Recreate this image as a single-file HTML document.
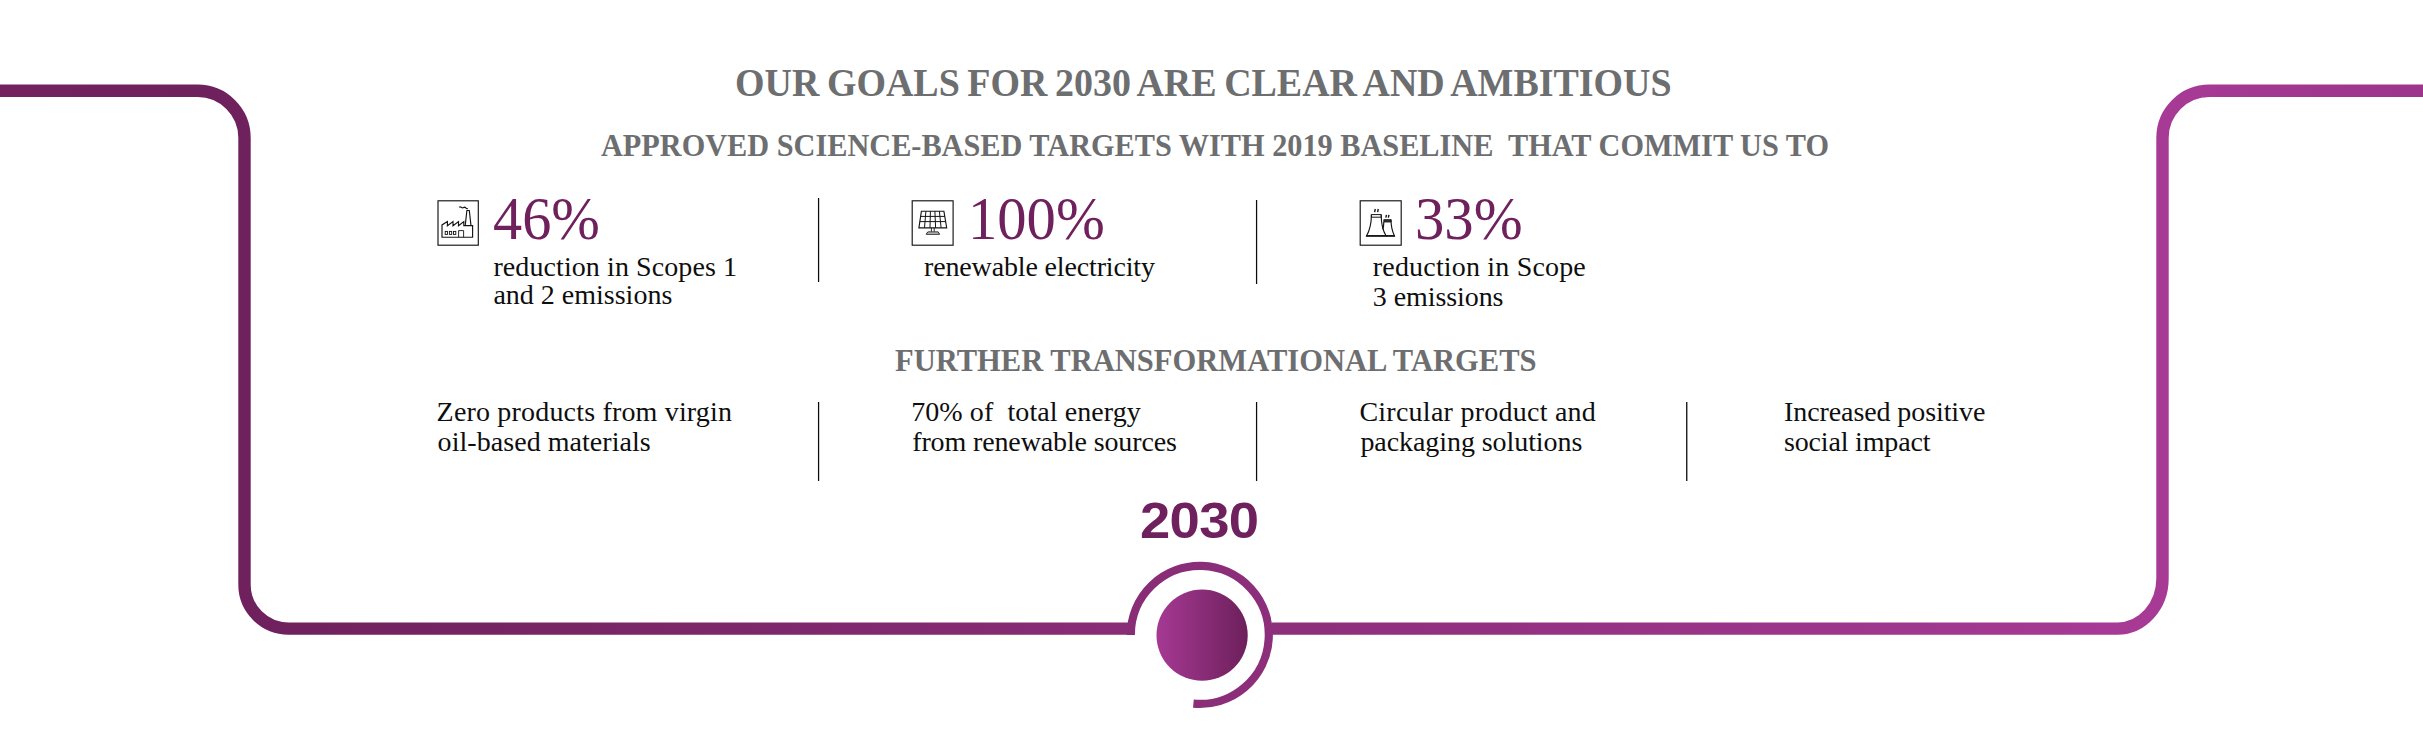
<!DOCTYPE html>
<html lang="en">
<head>
<meta charset="utf-8">
<title>Our goals for 2030</title>
<style>
html,body{margin:0;padding:0;background:#fff;}
body{width:2423px;height:730px;position:relative;overflow:hidden;font-family:"Liberation Serif",serif;}
.t{position:absolute;white-space:nowrap;margin:0;padding:0;transform-origin:0 0;}
.h{color:#6d6e70;font-weight:bold;font-family:"Liberation Serif",serif;}
.n{color:#6f215d;font-family:"Liberation Serif",serif;}
.b{color:#0e0e0e;font-family:"Liberation Serif",serif;}
.y{color:#6f215d;font-weight:bold;font-family:"Liberation Sans",sans-serif;}
.h1{word-spacing:-2px;}
#frame{position:absolute;left:0;top:0;width:2423px;height:730px;}
</style>
</head>
<body>
<svg id="frame" width="2423" height="730" viewBox="0 0 2423 730">
<defs>
<linearGradient id="g" gradientUnits="userSpaceOnUse" x1="0" y1="0" x2="2423" y2="0">
<stop offset="0" stop-color="#73225f"/>
<stop offset="0.1" stop-color="#6e215c"/>
<stop offset="0.89" stop-color="#a73a95"/>
<stop offset="1" stop-color="#9c358b"/>
</linearGradient>
<linearGradient id="g2" gradientUnits="userSpaceOnUse" x1="1156" y1="0" x2="1248" y2="0">
<stop offset="0" stop-color="#a63994"/>
<stop offset="1" stop-color="#6d205b"/>
</linearGradient>
</defs>
<g fill="none" stroke="url(#g)" stroke-width="12.4">
<path d="M0 90.8 H197.5 A47 47 0 0 1 244.5 137.8 V584.6 A44 44 0 0 0 288.5 628.6 H1134.6"/>
<path d="M1272 628.6 H2117.5 A45 50 0 0 0 2162.5 578.6 V137.8 A47 47 0 0 1 2209.5 90.8 H2423"/>
</g>
<path d="M1130.8 634.9 A69 69 0 1 1 1193.4 703.6" fill="none" stroke="url(#g)" stroke-width="8.2"/>
<circle cx="1202.1" cy="635.2" r="45.6" fill="url(#g2)"/>

<g fill="#0c0c0c">
<rect x="817.95" y="198" width="1.25" height="84"/>
<rect x="1255.95" y="200" width="1.25" height="84"/>
<rect x="817.95" y="402" width="1.25" height="79"/>
<rect x="1255.95" y="402" width="1.25" height="79"/>
<rect x="1686.1" y="402" width="1.3" height="79"/>
</g>
<!-- factory icon -->
<g fill="none" stroke="#141414" stroke-width="1.15" stroke-linejoin="miter">
<rect x="438" y="200.8" width="40.3" height="44.4"/>
<path d="M442 237.2 V224.9 L447.4 221.6 V225.8 L453 221.6 V225.8 L458.5 221.6 V225.8 L463.8 221.6 V225.6 H472.6 V237.2 Z"/>
<path d="M465.2 225.6 L466.9 210.5 H469.3 L471 225.6"/>
<path d="M459.2 207.3 q1.1 -0.9 2.2 0.1 t2.2 0.2 t2.2 0.3 t2 0.6" stroke-width="1.25"/>
<rect x="445.2" y="231.4" width="2.3" height="3" stroke-width="0.9"/>
<rect x="449.4" y="231.4" width="2.3" height="3" stroke-width="0.9"/>
<rect x="453.5" y="231.4" width="2.3" height="3" stroke-width="0.9"/>
<path d="M458.6 237.2 V230.6 H463.6 V237.2" stroke-width="0.9"/>
</g>

<!-- solar icon -->
<g fill="none" stroke="#141414" stroke-width="1.15">
<rect x="912.2" y="200.8" width="40.9" height="44.4"/>
<path d="M921.4 211.2 H943.9 L946.7 227.8 H918.9 Z"/>
<path d="M920.6 216.4 H944.8 M919.8 221.6 H945.7" stroke-width="1"/>
<path d="M925.9 211.2 L924.5 227.8 M930.4 211.2 L930 227.8 M934.9 211.2 L935.6 227.8 M939.4 211.2 L941.1 227.8" stroke-width="1"/>
<path d="M931.4 228 V231.6 M934.2 228 V231.6" stroke-width="0.9"/>
<path d="M927.8 231.9 H938.2 L939.6 234.3 H926.2 Z" fill="#ccc" stroke-width="0.9"/>
</g>

<!-- cooling towers icon -->
<g fill="none" stroke="#141414" stroke-width="1.15">
<rect x="1360.2" y="200.8" width="41" height="44.4"/>
<path d="M1371.4 214.6 H1381.2 V217.2 H1371.4 Z" stroke-width="1"/>
<path d="M1371.4 214.6 C1371.4 224 1370 230 1366.6 235.8 H1386 C1382.4 230 1381.2 224 1381.2 214.6"/>
<path d="M1383.8 219.6 H1391 V222 H1383.8 Z" fill="#333" stroke-width="0.8"/>
<path d="M1383.8 222 C1383.8 226 1383.2 228 1382.8 229.5 M1391 219.6 C1391 227 1392 231 1394.4 235.8 H1386"/>
<path d="M1366 235.9 H1395" stroke-width="1.6"/>
<path d="M1375.3 209 L1374.6 212.2 M1378.3 209 L1377.6 212.2 M1386.5 214.8 L1385.8 217.6 M1389 214.8 L1388.3 217.6" stroke-width="1.4"/>
</g>
</svg>


<div class="t h h1" style="left:735.0px;top:60.0px;font-size:39.5px;line-height:47px;transform:scaleX(0.9609)">OUR GOALS FOR 2030 ARE CLEAR AND AMBITIOUS</div>
<div class="t h" style="left:601.0px;top:126.0px;font-size:32px;line-height:38px;transform:scaleX(0.9460)">APPROVED SCIENCE-BASED TARGETS WITH 2019 BASELINE&nbsp; THAT COMMIT US TO</div>
<div class="t h" style="left:895.2px;top:341.0px;font-size:32px;line-height:38px;transform:scaleX(0.9544)">FURTHER TRANSFORMATIONAL TARGETS</div>
<div class="t n" style="left:493.2px;top:182.0px;font-size:61px;line-height:73px;transform:scaleX(0.9559)">46%</div>
<div class="t n" style="left:968.2px;top:182.0px;font-size:61px;line-height:73px;transform:scaleX(0.9606)">100%</div>
<div class="t n" style="left:1414.6px;top:182.0px;font-size:61px;line-height:73px;transform:scaleX(0.9630)">33%</div>
<div class="t b" style="left:493.4px;top:250.0px;font-size:28px;line-height:34px;letter-spacing:0.09px">reduction in Scopes 1</div>
<div class="t b" style="left:493.4px;top:278.0px;font-size:28px;line-height:34px">and 2 emissions</div>
<div class="t b" style="left:924.0px;top:250.0px;font-size:28px;line-height:34px;letter-spacing:-0.15px">renewable electricity</div>
<div class="t b" style="left:1372.8px;top:250.0px;font-size:28px;line-height:34px;letter-spacing:0.18px">reduction in Scope</div>
<div class="t b" style="left:1372.8px;top:280.0px;font-size:28px;line-height:34px;letter-spacing:-0.08px">3 emissions</div>
<div class="t b" style="left:436.6px;top:395.0px;font-size:28px;line-height:34px;letter-spacing:0.18px">Zero products from virgin</div>
<div class="t b" style="left:437.6px;top:425.0px;font-size:28px;line-height:34px;letter-spacing:0.05px">oil-based materials</div>
<div class="t b" style="left:911.2px;top:395.0px;font-size:28px;line-height:34px;letter-spacing:0.08px">70% of&nbsp; total energy</div>
<div class="t b" style="left:912.2px;top:425.0px;font-size:28px;line-height:34px;letter-spacing:-0.13px">from renewable sources</div>
<div class="t b" style="left:1359.4px;top:395.0px;font-size:28px;line-height:34px;letter-spacing:0.25px">Circular product and</div>
<div class="t b" style="left:1360.4px;top:425.0px;font-size:28px;line-height:34px;letter-spacing:-0.07px">packaging solutions</div>
<div class="t b" style="left:1784.0px;top:395.0px;font-size:28px;line-height:34px;letter-spacing:-0.09px">Increased positive</div>
<div class="t b" style="left:1784.0px;top:425.0px;font-size:28px;line-height:34px;letter-spacing:-0.17px">social impact</div>
<div class="t y" style="left:1139.8px;top:491.0px;font-size:49.5px;line-height:59px;letter-spacing:-0.64px;transform:scaleX(1.1000)">2030</div>
</body>
</html>
